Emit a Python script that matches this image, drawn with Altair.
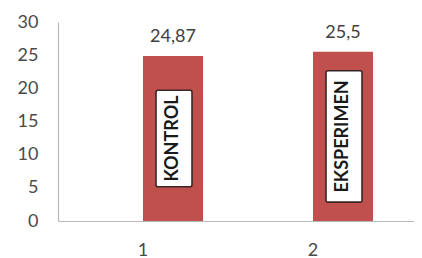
import altair as alt
import pandas as pd

categories = ["1", "2"]
values = [24.87, 25.5]
value_labels = ["24,87", "25,5"]
group_names = ["KONTROL", "EKSPERIMEN"]
y_ticks = [0, 5, 10, 15, 20, 25, 30]

df = pd.DataFrame({
    "cat": categories,
    "value": values,
    "vlabel": value_labels,
    "name": group_names,
})

PX_PER_UNIT = 199 / 30.0
FONT = "Lato"

x_enc = alt.X(
    "cat:N",
    sort=categories,
    scale=alt.Scale(paddingInner=0, paddingOuter=0.047, align=0),
    axis=alt.Axis(
        title=None, labelAngle=0, ticks=False, tickSize=0, labelPadding=20,
        domainColor="#B8B8B8", domainWidth=1.2, labelFont=FONT, labelFontSize=18,
        labelColor="#4a4a4a", grid=False,
    ),
)
y_scale = alt.Scale(domain=[0, 30], nice=False)
y_axis = alt.Axis(
    title=None, values=y_ticks, ticks=False, tickSize=0, labelPadding=20,
    domainColor="#B8B8B8", domainWidth=1.2, labelFont=FONT, labelFontSize=18,
    labelColor="#4a4a4a", grid=False,
)

base = alt.Chart(df)

bars = base.mark_bar(width=60, xOffset=30, color="#C0504D").encode(
    x=x_enc,
    y=alt.Y("value:Q", scale=y_scale, axis=y_axis),
)

vtext = base.mark_text(
    xOffset=30, dy=-14, baseline="alphabetic", align="center",
    font=FONT, fontSize=18, color="#404040",
).encode(
    x=x_enc,
    y=alt.Y("value:Q", scale=y_scale, axis=y_axis),
    text="vlabel:N",
)

boxes = base.transform_calculate(
    mid="datum.value / 2",
    half="(5.8 * length(datum.name) + 7.7) / " + str(PX_PER_UNIT),
).transform_calculate(
    lo="datum.mid - datum.half",
    hi="datum.mid + datum.half",
).mark_bar(
    width=36, xOffset=31, fill="white", stroke="#3a2626", strokeWidth=1.6,
    cornerRadius=2,
).encode(
    x=x_enc,
    y=alt.Y("lo:Q", scale=y_scale, axis=y_axis),
    y2="hi:Q",
)

names = base.transform_calculate(
    mid="datum.value / 2",
).mark_text(
    xOffset=30, angle=270, align="center", baseline="middle",
    font=FONT, fontSize=18, fontWeight="bold", color="#1a1a1a",
).encode(
    x=x_enc,
    y=alt.Y("mid:Q", scale=y_scale, axis=y_axis),
    text="name:N",
)

chart = alt.layer(bars, vtext, boxes, names).properties(
    width=356,
    height=199,
    autosize="none",
    padding={"left": 50, "top": 14, "right": 0, "bottom": 37},
    background="white",
).configure_view(stroke=None)

chart.save("out.html", embed_options={"renderer": "svg", "actions": False})
